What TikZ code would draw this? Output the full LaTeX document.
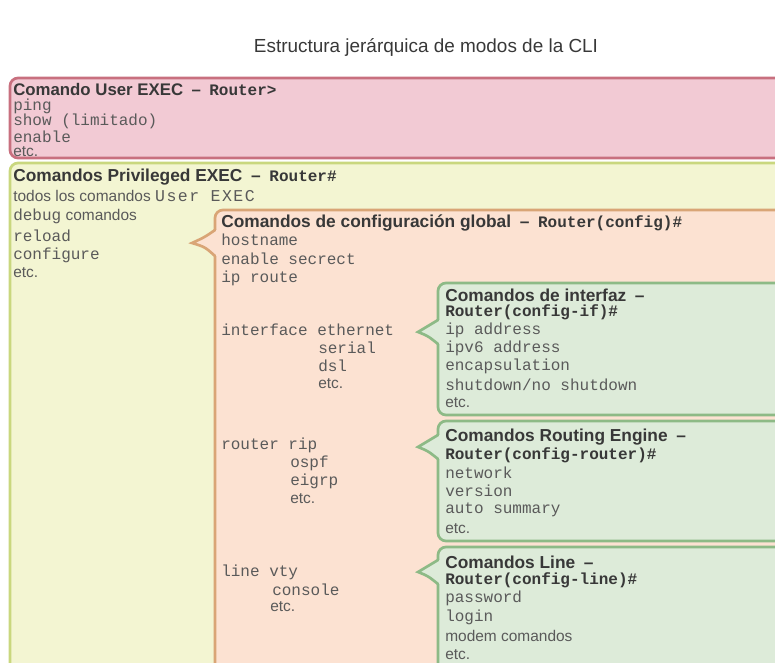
\documentclass[tikz,border=0pt]{standalone}
\usepackage{fontspec}
\setmainfont{Liberation Sans}
\setmonofont{Liberation Mono}
\newfontfamily\widemono[LetterSpace=9]{Liberation Mono}
\usepackage{xcolor}
\definecolor{redfill}{HTML}{F2CAD4}
\definecolor{redline}{HTML}{C8707F}
\definecolor{yellowfill}{HTML}{F3F5D2}
\definecolor{yellowline}{HTML}{C9D77E}
\definecolor{orangefill}{HTML}{FCE2D2}
\definecolor{orangeline}{HTML}{D9A576}
\definecolor{greenfill}{HTML}{DDEBD9}
\definecolor{greenline}{HTML}{8DBA86}
\definecolor{headtext}{HTML}{383838}
\definecolor{cmdtext}{HTML}{5A5A5A}
\usepackage{tikz}
\usetikzlibrary{positioning}

\tikzset{
  modebox/.style={line width=2pt, rounded corners=6},
  redbox/.style={modebox, draw=redline, fill=redfill},
  yellowbox/.style={modebox, draw=yellowline, fill=yellowfill},
  orangebox/.style={modebox, draw=orangeline, fill=orangefill},
  greenbox/.style={modebox, draw=greenline, fill=greenfill},
  head/.style={anchor=west, inner sep=0pt, text=headtext, font=\fontsize{13}{15}\selectfont\bfseries},
  prompt/.style={anchor=west, inner sep=0pt, text=headtext, font=\fontsize{12}{13}\selectfont\ttfamily\bfseries},
  cmd/.style={anchor=west, inner sep=0pt, text=cmdtext, font=\fontsize{12}{13}\selectfont\ttfamily},
  txt/.style={anchor=west, inner sep=0pt, text=cmdtext, font=\fontsize{11.6}{13}\selectfont},
}

\begin{document}
\begin{tikzpicture}[x=0.75pt, y=-0.75pt]
  \useasboundingbox (0,0) rectangle (775,663);
  \clip (0,0) rectangle (775,663);

  \node[anchor=center, inner sep=0pt, text=headtext, font=\fontsize{14.2}{17}\selectfont] (titulo) at (426,47) {Estructura jerárquica de modos de la CLI};

  % User EXEC
  \draw[redbox] (10,78) rectangle (800,158);
  \node[head, font=\fontsize{12.6}{14}\selectfont\bfseries] (userhead) at (13,89) {Comando User EXEC\enspace--\enspace{\fontsize{12}{13}\selectfont\ttfamily Router>}};
  \node[cmd] (ping) at (13,106) {ping};
  \node[cmd] (show) at (13,121.5) {show (limitado)};
  \node[cmd] (enable) at (13,137) {enable};
  \node[txt] (useretc) at (13,152) {etc.};

  % Privileged EXEC
  \draw[yellowbox] (10,163) rectangle (800,720);
  \node[head] (privhead) at (13,177) {Comandos Privileged EXEC\enspace--\enspace{\fontsize{12}{13}\selectfont\ttfamily Router\#}};
  \node[txt] (todos) at (13,196) {todos los comandos {\fontsize{12.4}{13}\selectfont\widemono User EXEC}};
  \node[txt] (debug) at (13,216) {{\fontsize{12}{13}\selectfont\ttfamily debug} comandos};
  \node[cmd] (reload) at (13,236) {reload};
  \node[cmd] (configure) at (13,255) {configure};
  \node[txt] (privetc) at (13,273) {etc.};

  % configuracion global
  \draw[orangebox] (215,210) rectangle (800,720);
  \fill[orangefill] (218,230) -- (216,230) .. controls (205,237) .. (192,243) .. controls (205,247) .. (216,256) -- (218,256) -- cycle;
  \draw[orangeline, line width=2pt, line cap=round] (215,230) .. controls (205,237) .. (192,243) .. controls (205,247) .. (215,256);
  \node[head] (globalhead) at (221,223) {Comandos de configuración global\enspace--\enspace{\fontsize{12}{13}\selectfont\ttfamily Router(config)\#}};
  \node[cmd] (hostname) at (221,240) {hostname};
  \node[cmd] (secret) at (221,259) {enable secrect};
  \node[cmd] (iproute) at (221,278) {ip route};
  \node[cmd] (iface) at (221,330) {interface ethernet};
  \node[cmd] (serial) at (318,348) {serial};
  \node[cmd] (dsl) at (318,366) {dsl};
  \node[txt] (ifaceetc) at (318,384) {etc.};
  \node[cmd] (rip) at (221,445) {router rip};
  \node[cmd] (ospf) at (290,463) {ospf};
  \node[cmd] (eigrp) at (290,481) {eigrp};
  \node[txt] (ripetc) at (290,499) {etc.};
  \node[cmd] (vty) at (221,572) {line vty};
  \node[cmd] (console) at (272,590) {console};
  \node[txt] (vtyetc) at (270,607) {etc.};

  % interfaz
  \draw[greenbox] (438,283) rectangle (800,415);
  \fill[greenfill] (441,320) -- (439,320) .. controls (428,326) .. (418,332) .. controls (428,336) .. (439,344) -- (441,344) -- cycle;
  \draw[greenline, line width=2pt, line cap=round] (438,320) .. controls (428,326) .. (418,332) .. controls (428,336) .. (438,344);
  \node[head] (ifhead) at (445,295) {Comandos de interfaz\enspace--};
  \node[prompt] (ifprompt) at (445,312) {Router(config-if)\#};
  \node[cmd] (ipaddr) at (445,330) {ip address};
  \node[cmd] (ipv6) at (445,348) {ipv6 address};
  \node[cmd] (encap) at (445,366) {encapsulation};
  \node[cmd] (shut) at (445,385) {shutdown/no shutdown};
  \node[txt] (ifetc) at (445,403) {etc.};

  % routing
  \draw[greenbox] (438,421) rectangle (800,541);
  \fill[greenfill] (441,435) -- (439,435) .. controls (428,441) .. (418,447) .. controls (428,451) .. (439,459) -- (441,459) -- cycle;
  \draw[greenline, line width=2pt, line cap=round] (438,435) .. controls (428,441) .. (418,447) .. controls (428,451) .. (438,459);
  \node[head] (rthead) at (445,437) {Comandos Routing Engine\enspace--};
  \node[prompt] (rtprompt) at (445,455) {Router(config-router)\#};
  \node[cmd] (network) at (445,473) {network};
  \node[cmd] (version) at (445,491) {version};
  \node[cmd] (summary) at (445,510) {auto summary};
  \node[txt] (rtetc) at (445,529) {etc.};

  % line
  \draw[greenbox] (438,547) rectangle (800,720);
  \fill[greenfill] (441,560) -- (439,560) .. controls (428,566) .. (418,572) .. controls (428,576) .. (439,584) -- (441,584) -- cycle;
  \draw[greenline, line width=2pt, line cap=round] (438,560) .. controls (428,566) .. (418,572) .. controls (428,576) .. (438,584);
  \node[head] (lnhead) at (445,562) {Comandos Line\enspace--};
  \node[prompt] (lnprompt) at (445,580) {Router(config-line)\#};
  \node[cmd] (password) at (445,598) {password};
  \node[cmd] (login) at (445,617) {login};
  \node[txt] (modem) at (445,636) {modem comandos};
  \node[txt] (lnetc) at (445,655) {etc.};
\end{tikzpicture}
\end{document}
